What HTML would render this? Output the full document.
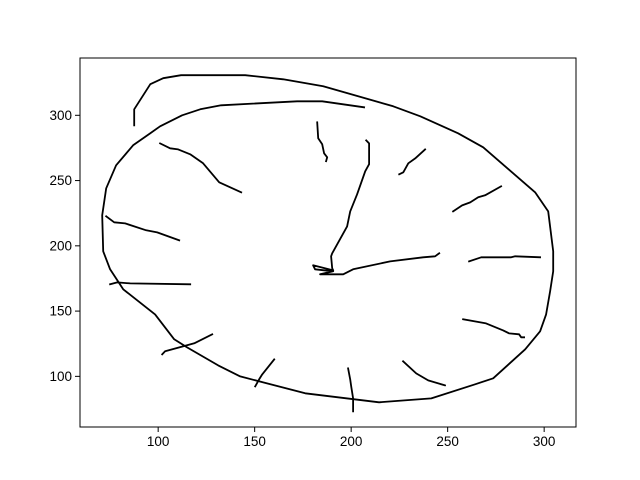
<!DOCTYPE html>
<html><head><meta charset="utf-8"><style>
html,body{margin:0;padding:0;background:#fff;}
svg{display:block;font-family:"Liberation Sans","DejaVu Sans",sans-serif;}
</style></head><body>
<svg id="chart" width="640" height="480" viewBox="0 0 640 480">
<rect x="0" y="0" width="640" height="480" fill="#fff"/>
<g id="strokes"></g>
<g id="axes"></g>
</svg>
<script>
const xTicks=[100,150,200,250,300];
const yTicks=[100,150,200,250,300];
const outerX=[87.6,87.6,95.9,102.6,111.9,145.1,164.8,185.5,221.8,235.8,255.4,268.4,295.3,302.1,304.7,304.7,303.1,301.0,297.9,290.2,273.6,264.2,241.5,214.5,176.2,142.5,131.1,115.0,108.3,98.4,81.9,75.1,71.5,71.0,73.1,78.2,87.0,95.9,101.0,112.4,121.8,132.6,172.0,185.0,206.7];
const outerY=[292.3,304.6,323.8,328.4,330.7,330.7,327.6,322.2,306.9,299.2,286.2,275.5,241.0,226.4,195.8,180.5,165.1,147.5,134.5,120.7,98.5,93.9,83.1,80.1,87.0,100.0,108.4,122.2,128.4,147.5,166.7,182.0,195.8,223.4,244.1,261.7,277.0,286.2,291.6,300.0,304.6,307.7,310.7,310.7,306.1];
const handX=[207.8,209.3,209.3,207.3,203.1,199.5,197.9,190.2,189.6,190.2,190.7,180.3,181.3,190.7,183.9,195.9,201.0,220.2,237.3,243.5,245.6];
const handY=[280.8,278.5,262.5,257.1,239.5,226.4,214.9,194.3,192.0,182.8,181.2,185.1,182.0,180.5,178.2,178.2,182.0,188.1,191.2,192.0,194.3];
const tick12X=[182.4,182.9,185.0,186.0,187.6,187.0];
const tick12Y=[294.6,282.4,277.8,270.9,267.8,264.8];
const tick1X=[224.9,227.0,229.6,233.2,238.3];
const tick1Y=[254.8,256.3,263.2,267.0,273.9];
const tick2X=[252.8,257.5,261.7,265.8,269.4,277.7];
const tick2Y=[226.4,231.0,233.3,237.2,238.7,245.6];
const tick3X=[261.1,267.4,282.9,285.0,297.9];
const tick3Y=[188.1,191.2,191.2,192.0,191.2];
const tick4X=[258.0,269.9,278.8,281.9,287.0,288.1,289.6];
const tick4Y=[143.7,140.6,135.2,132.9,132.2,129.9,129.9];
const tick5X=[226.9,233.7,239.9,248.7,246.6];
const tick5Y=[111.5,102.3,96.9,93.1,93.9];
const tick6X=[198.4,199.5,200.0,201.0,201.0];
const tick6Y=[106.1,97.7,92.3,83.1,73.2];
const tick7X=[160.1,153.9,152.3,150.3];
const tick7Y=[113.0,101.5,97.7,92.3];
const tick8X=[128.0,118.7,109.3,103.6,102.1];
const tick8Y=[132.2,125.3,121.5,119.2,116.9];
const tick9X=[75.1,78.8,85.5,116.6];
const tick9Y=[170.5,172.0,171.2,170.5];
const tick10X=[73.1,77.2,82.9,93.8,99.5,110.9];
const tick10Y=[222.6,218.0,217.2,211.9,210.3,204.2];
const tick11X=[101.0,106.2,110.4,116.6,123.3,131.6,143.0];
const tick11Y=[278.5,274.7,273.9,270.1,263.2,248.7,241.0];

const L=80,R=576,T=58,B=427;
const X0=59.5,X1=316.5,Y0=61.2,Y1=343.9;
function sx(v){return L+(v-X0)/(X1-X0)*(R-L);}
function sy(v){return B-(v-Y0)/(Y1-Y0)*(B-T);}
const NS="http://www.w3.org/2000/svg";
const sg=document.getElementById('strokes');
const strokes=[["outline",outerX,outerY],["hands",handX,handY],["tick-12",tick12X,tick12Y],["tick-1",tick1X,tick1Y],["tick-2",tick2X,tick2Y],["tick-3",tick3X,tick3Y],["tick-4",tick4X,tick4Y],["tick-5",tick5X,tick5Y],["tick-6",tick6X,tick6Y],["tick-7",tick7X,tick7Y],["tick-8",tick8X,tick8Y],["tick-9",tick9X,tick9Y],["tick-10",tick10X,tick10Y],["tick-11",tick11X,tick11Y]];
strokes.forEach(s=>{
  const p=document.createElementNS(NS,'polyline');
  p.setAttribute('points',s[1].map((x,i)=>sx(x).toFixed(1)+','+sy(s[2][i]).toFixed(1)).join(' '));
  p.setAttribute('fill','none');p.setAttribute('stroke','#000');p.setAttribute('stroke-width','1.8');
  p.setAttribute('stroke-linejoin','round');p.setAttribute('stroke-linecap','square');
  
  
  sg.appendChild(p);
});
const ag=document.getElementById('axes');
const fr=document.createElementNS(NS,'rect');
fr.setAttribute('x',L);fr.setAttribute('y',T);fr.setAttribute('width',R-L);fr.setAttribute('height',B-T);
fr.setAttribute('fill','none');fr.setAttribute('stroke','#000');fr.setAttribute('stroke-width','1');


ag.appendChild(fr);
xTicks.forEach(v=>{
  const x=sx(v);
  const l=document.createElementNS(NS,'line');
  l.setAttribute('x1',x);l.setAttribute('x2',x);l.setAttribute('y1',B);l.setAttribute('y2',B+5);l.setAttribute('stroke','#000');
  
  
  ag.appendChild(l);
  const t=document.createElementNS(NS,'text');
  t.setAttribute('x',x);t.setAttribute('y',B+19);t.setAttribute('text-anchor','middle');t.setAttribute('font-size','13.5');
  t.textContent=v;
  
  
  ag.appendChild(t);
});
yTicks.forEach(v=>{
  const y=sy(v);
  const l=document.createElementNS(NS,'line');
  l.setAttribute('x1',L-5);l.setAttribute('x2',L);l.setAttribute('y1',y);l.setAttribute('y2',y);l.setAttribute('stroke','#000');
  
  
  ag.appendChild(l);
  const t=document.createElementNS(NS,'text');
  t.setAttribute('x',L-8);t.setAttribute('y',y+4.5);t.setAttribute('text-anchor','end');t.setAttribute('font-size','13.5');
  t.textContent=v;
  
  
  ag.appendChild(t);
});
</script>
</body></html>
